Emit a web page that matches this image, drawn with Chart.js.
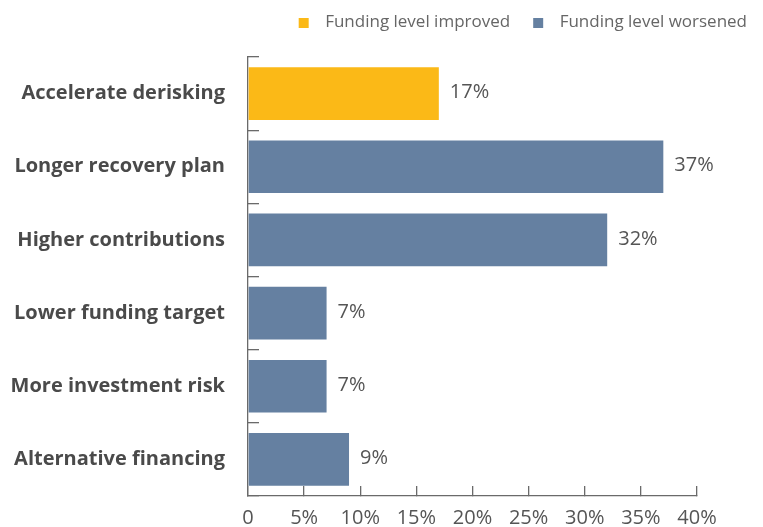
<!DOCTYPE html>
<html>
<head>
<meta charset="utf-8">
<script src="https://cdn.jsdelivr.net/npm/chart.js@4/dist/chart.umd.min.js"></script>
<style>
    body { margin: 0; background: #fff; }
</style>
</head>
<body>
<canvas id="actions-chart" width="763" height="527"></canvas>
<script>
const categories = [
    "Accelerate derisking",
    "Longer recovery plan",
    "Higher contributions",
    "Lower funding target",
    "More investment risk",
    "Alternative financing"
]
const improvedValues = [17, null, null, null, null, null]
const worsenedValues = [null, 37, 32, 7, 7, 9]
const seriesNames = ["Funding level improved", "Funding level worsened"]
const seriesColors = ["#fbb917", "#6580a1"]

const fontName = "Open Sans"
const textColor = "#555555"
const axisColor = "#6a6a6a"

Chart.defaults.font.family = fontName

// small square on the right side of a transparent strip, used as legend marker
function swatch(color) {
    const c = document.createElement("canvas")
    c.width = 31
    c.height = 10
    const g = c.getContext("2d")
    g.fillStyle = color
    g.fillRect(13, 0, 10, 10)
    return c
}
const swatches = seriesColors.map(swatch)

// percentage written just past the end of each bar
const valueLabels = {
    id: "valueLabels",
    afterDatasetsDraw(chart) {
        const ctx = chart.ctx
        ctx.save()
        ctx.font = "20px '" + fontName + "'"
        ctx.fillStyle = textColor
        ctx.textBaseline = "middle"
        ctx.textAlign = "left"
        chart.data.datasets.forEach((ds, i) => {
            chart.getDatasetMeta(i).data.forEach((bar, j) => {
                if (ds.data[j] == null) return
                ctx.fillText(ds.data[j] + "%", bar.x + 11, bar.y - 1)
            })
        })
        ctx.restore()
    }
}

// keep a fixed gap between legend and plot
const legendGap = {
    id: "legendGap",
    beforeInit(chart) {
        const fit = chart.legend.fit
        chart.legend.fit = function () {
            fit.call(this)
            this.height = 53
        }
    }
}

function buildChart() {
    const ctx = document.getElementById("actions-chart")
    return new Chart(ctx, {
        type: "bar",
        data: {
            labels: categories,
            datasets: [{
                label: seriesNames[0],
                data: improvedValues,
                backgroundColor: seriesColors[0],
                barPercentage: 0.72,
                categoryPercentage: 1
            }, {
                label: seriesNames[1],
                data: worsenedValues,
                backgroundColor: seriesColors[1],
                barPercentage: 0.72,
                categoryPercentage: 1
            }]
        },
        options: {
            indexAxis: "y",
            responsive: false,
            animation: false,
            layout: { padding: { top: 4, right: 6, bottom: 0, left: 0 } },
            plugins: {
                tooltip: { enabled: false },
                legend: {
                    position: "top",
                    align: "end",
                    labels: {
                        usePointStyle: true,
                        pointStyleWidth: 31,
                        boxHeight: 10,
                        padding: 10,
                        color: "#666",
                        font: { size: 17 },
                        generateLabels(chart) {
                            const items = Chart.defaults.plugins.legend.labels.generateLabels(chart)
                            items.forEach(it => it.pointStyle = swatches[it.datasetIndex])
                            return items
                        }
                    }
                }
            },
            scales: {
                x: {
                    type: "linear",
                    stacked: true,
                    min: 0,
                    max: 40,
                    afterFit(s) { s.height = 31 },
                    border: { color: axisColor, width: 1.3 },
                    grid: { drawOnChartArea: false, tickLength: -10, color: axisColor, lineWidth: 1.3 },
                    ticks: {
                        stepSize: 5,
                        padding: 20,
                        color: textColor,
                        font: { size: 20 },
                        callback: v => v === 0 ? "0" : v + "%"
                    }
                },
                y: {
                    stacked: true,
                    afterFit(s) {
                        s.width = 248
                        s.paddingTop = 0
                        s.paddingBottom = 0
                    },
                    border: { color: axisColor, width: 1.3 },
                    grid: { offset: true, drawOnChartArea: false, tickLength: -11, color: axisColor, lineWidth: 1.3 },
                    ticks: {
                        padding: 34,
                        color: "#4a4a4a",
                        font: { size: 20, weight: "bold" }
                    }
                },
                spacer: {
                    type: "linear",
                    axis: "y",
                    position: "right",
                    afterFit(s) { s.width = 60 },
                    border: { display: false },
                    grid: { display: false },
                    ticks: { display: false }
                }
            }
        },
        plugins: [valueLabels, legendGap]
    })
}

document.fonts.load("bold 20px '" + fontName + "'").then(() => buildChart())
</script>
</body>
</html>
